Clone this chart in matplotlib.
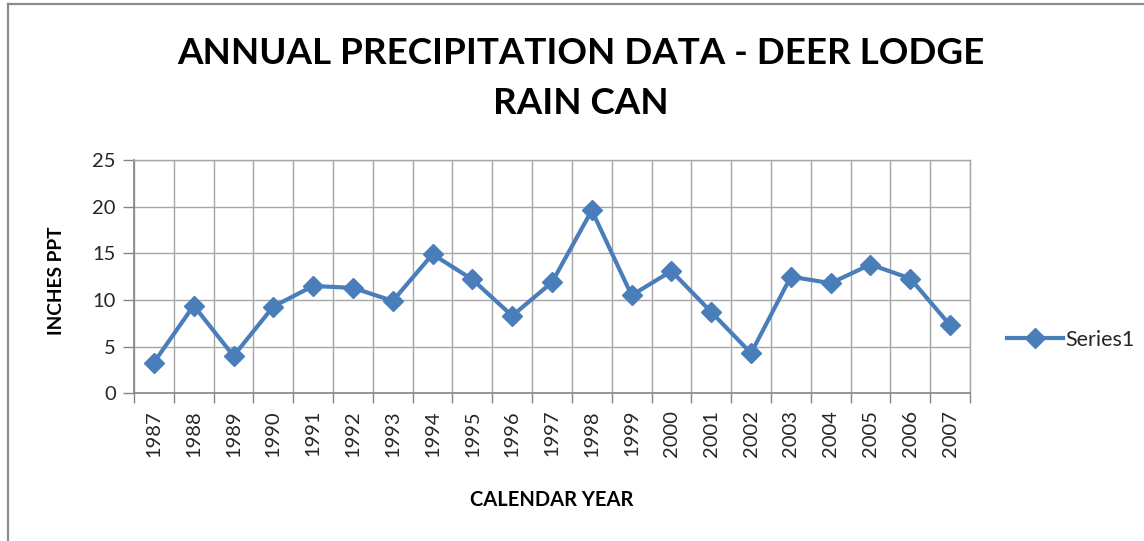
import matplotlib
matplotlib.use("Agg")
import matplotlib.pyplot as plt
from matplotlib.lines import Line2D

years = ["1987", "1988", "1989", "1990", "1991", "1992", "1993", "1994", "1995", "1996", "1997",
         "1998", "1999", "2000", "2001", "2002", "2003", "2004", "2005", "2006", "2007"]
precip = [3.3, 9.4, 4.0, 9.3, 11.5, 11.3, 9.9, 14.9, 12.2, 8.3, 11.9,
          19.6, 10.5, 13.1, 8.7, 4.3, 12.5, 11.8, 13.8, 12.3, 7.3]
y_ticks = [0, 5, 10, 15, 20, 25]

FONT = "Lato"
LINE_BLUE = "#4A7EBB"
GRID = "#A6A6A6"
AXIS = "#868686"

fig = plt.figure(figsize=(11.44, 5.41), dpi=100)
fig.patch.set_facecolor("white")

# thin outer chart frame (left and top edges visible)
fig.add_artist(Line2D([8 / 1144, 8 / 1144], [0, 1 - 4 / 541], color="#8C8C8C", lw=1.6,
                      transform=fig.transFigure))
fig.add_artist(Line2D([8 / 1144, 1], [1 - 4 / 541, 1 - 4 / 541], color="#8C8C8C", lw=1.6,
                      transform=fig.transFigure))

left, right = 134 / 1144, 970 / 1144
bottom, top = 1 - 393.3 / 541, 1 - 160 / 541
ax = fig.add_axes([left, bottom, right - left, top - bottom])

x = list(range(len(years)))
ax.plot(x, precip, color=LINE_BLUE, lw=3.0, marker="D", markersize=10,
        markerfacecolor=LINE_BLUE, markeredgecolor=LINE_BLUE, label="Series1",
        solid_joinstyle="round", zorder=3)

ax.set_xlim(-0.5, len(years) - 0.5)
ax.set_ylim(0, 25)

# category labels at centres, tick marks and gridlines at category boundaries
ax.set_xticks(x)
ax.set_xticklabels(years, rotation=90, fontfamily=FONT, fontsize=14.5, color="#262626")
ax.set_xticks([i - 0.5 for i in range(len(years) + 1)], minor=True)
ax.tick_params(axis="x", which="major", length=0, pad=12)
ax.tick_params(axis="x", which="minor", length=7, width=1, color=AXIS, direction="out")
ax.grid(True, axis="x", which="minor", color=GRID, lw=1)

ax.set_yticks(y_ticks)
ax.set_yticklabels([str(v) for v in y_ticks], fontfamily=FONT, fontsize=14.5, color="#262626")
ax.tick_params(axis="y", length=8, width=1, color=AXIS, direction="out", pad=5)
ax.grid(True, axis="y", which="major", color=GRID, lw=1)
ax.set_axisbelow(True)

for side in ("left", "bottom"):
    ax.spines[side].set_color(AXIS)
    ax.spines[side].set_linewidth(1.2)
for side in ("top", "right"):
    ax.spines[side].set_color(GRID)
    ax.spines[side].set_linewidth(1)

fig.text(581 / 1144, 1 - 53 / 541, "ANNUAL PRECIPITATION DATA - DEER LODGE", ha="center",
         va="center", fontfamily=FONT, fontweight="bold", fontsize=26.5, color="black")
fig.text(581 / 1144, 1 - 103 / 541, "RAIN CAN", ha="center", va="center",
         fontfamily=FONT, fontweight="bold", fontsize=26.5, color="black")

fig.text(56 / 1144, 1 - 281 / 541, "INCHES PPT", ha="center", va="center", rotation=90,
         fontfamily=FONT, fontweight="bold", fontsize=13.8, color="black")
fig.text(552 / 1144, 1 - 500 / 541, "CALENDAR YEAR", ha="center", va="center",
         fontfamily=FONT, fontweight="bold", fontsize=14.5, color="black")

leg = ax.legend(loc="center left", bbox_to_anchor=(1007 / 1144, 1 - 340 / 541),
                bbox_transform=fig.transFigure, frameon=False, handlelength=2.6,
                handletextpad=0.1, borderaxespad=0, borderpad=0,
                prop={"family": FONT, "size": 15.5})
for t in leg.get_texts():
    t.set_color("#262626")

fig.savefig("out.png", dpi=100, facecolor="white")
